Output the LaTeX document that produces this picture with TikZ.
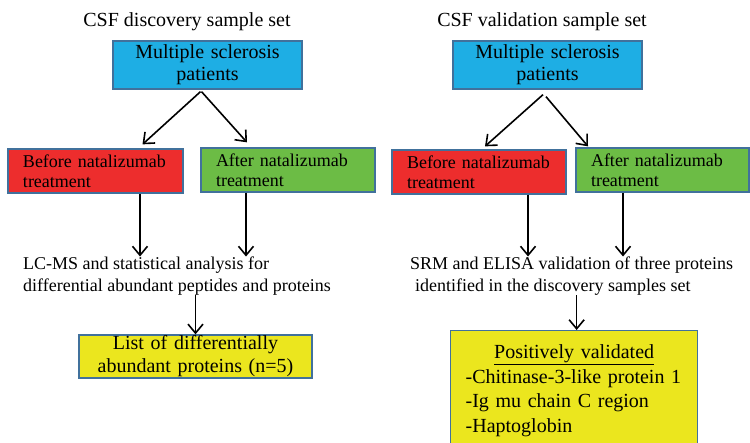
\documentclass[tikz,border=0pt]{standalone}
\usepackage{fontspec}
\setmainfont{Liberation Serif}
\usetikzlibrary{arrows.meta}
\definecolor{msblue}{RGB}{30,174,228}
\definecolor{msred}{RGB}{237,45,45}
\definecolor{msgreen}{RGB}{108,188,69}
\definecolor{msyellow}{RGB}{235,230,30}
\definecolor{boxline}{RGB}{65,113,156}
\begin{document}
\begin{tikzpicture}[x=1pt,y=-1pt,
  box/.style={draw=boxline, line width=1.3pt, inner ysep=1pt},
  bluebox/.style={box, fill=msblue, font=\fontsize{20}{22}\selectfont, align=center,
    text width=180pt, inner xsep=4.5pt, minimum height=48pt},
  splitbox/.style={box, font=\fontsize{18}{20}\selectfont, align=left,
    inner xsep=15pt, minimum height=44pt},
  plaintext/.style={font=\fontsize{18}{22}\selectfont, align=left, inner sep=0pt, anchor=north west},
  titletext/.style={font=\fontsize{20}{24}\selectfont, anchor=base},
  arr/.style={-{Straight Barb[length=9pt,width=15pt]}, line width=1.6pt}]
\useasboundingbox (0,0) rectangle (750,442);
\clip (0,0) rectangle (750,442);

% left column
\node[titletext] (titleL) at (187,26) {CSF discovery sample set};
\node[bluebox] (blueL) at (207.5,65) {Multiple sclerosis\\patients};
\node[splitbox, fill=msred, text width=145pt] (redL) at (95.5,171) {Before natalizumab\\treatment};
\node[splitbox, fill=msgreen, text width=144pt] (greenL) at (288,170) {After natalizumab\\treatment};
\node[plaintext] (lcms) at (23,256.5) {LC-MS and statistical analysis for\\differential abundant peptides and proteins};
\node[box, fill=msyellow, font=\fontsize{20}{23}\selectfont, align=center, text width=223pt,
  inner xsep=5pt, inner ysep=0pt, minimum height=43pt] (listL) at (195.5,356.5)
  {List of differentially\\abundant proteins (n=5)};

\draw[arr] ([xshift=-7pt,yshift=-2pt]blueL.south) -- ([xshift=47pt,yshift=4pt]redL.north);
\draw[arr] ([xshift=-6pt,yshift=-2pt]blueL.south) -- ([xshift=-41pt,yshift=5pt]greenL.north);
\draw[arr] ([xshift=44.5pt]redL.south) -- ([xshift=44.5pt]redL.south |- lcms.north);
\draw[arr] ([xshift=-42pt]greenL.south) -- ([xshift=-42pt]greenL.south |- lcms.north);
\draw[arr] (lcms.south -| listL.north) -- (listL.north);

% right column
\node[titletext] (titleR) at (542,26) {CSF validation sample set};
\node[bluebox] (blueR) at (547.5,65) {Multiple sclerosis\\patients};
\node[splitbox, fill=msred, text width=144pt] (redR) at (479,172) {Before natalizumab\\treatment};
\node[splitbox, fill=msgreen, text width=143pt] (greenR) at (662.5,170) {After natalizumab\\treatment};
\node[plaintext] (srm) at (410,256.5) {SRM and ELISA validation of three proteins\\\hspace*{5pt}identified in the discovery samples set};
\node[box, fill=msyellow, font=\fontsize{20}{24.5}\selectfont, align=left, text width=217pt,
  inner xsep=15pt, inner ysep=14pt, anchor=north west] (valid) at (450,330)
  {\makebox[217pt]{\underline{Positively validated}}\\-Chitinase-3-like protein 1\\-Ig mu chain C region\\-Haptoglobin};

\draw[arr] ([xshift=-4.5pt,yshift=-5pt]blueR.south) -- ([xshift=6pt,yshift=3pt]redR.north);
\draw[arr] ([xshift=-1.5pt,yshift=-7pt]blueR.south) -- ([xshift=-74.5pt,yshift=1pt]greenR.north);
\draw[arr] ([xshift=49pt]redR.south) -- ([xshift=49pt]redR.south |- srm.north);
\draw[arr] ([xshift=-39.5pt]greenR.south) -- ([xshift=-39.5pt]greenR.south |- srm.north);
\draw[arr] ([xshift=2.5pt]valid.north |- srm.south) -- ([xshift=2.5pt]valid.north);
\end{tikzpicture}
\end{document}
